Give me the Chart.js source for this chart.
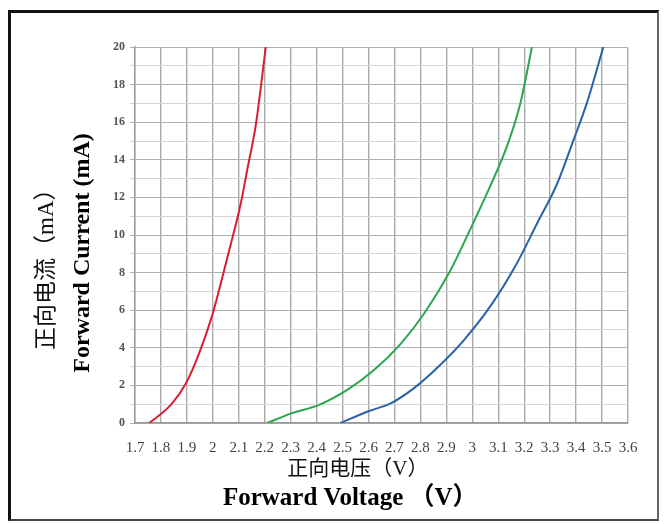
<!DOCTYPE html>
<html>
<head>
<meta charset="utf-8">
<script src="https://cdn.jsdelivr.net/npm/chart.js@4.4.1/dist/chart.umd.min.js"></script>
<style>
  html, body { margin: 0; padding: 0; background: #fff; }
  #wrap { position: relative; width: 664px; height: 524px; }
  #frame { position: absolute; left: 8px; top: 10px; width: 646px; height: 506px;
           border-left: 3px solid #111; border-top: 3px solid #111;
           border-right: 2px solid #666; border-bottom: 2px solid #444; pointer-events: none; }
  canvas { position: absolute; left: 0; top: 0; }
</style>
</head>
<body>
<div id="wrap">
  <canvas id="c" width="664" height="524"></canvas>
  <div id="frame"></div>
</div>
<script>
// Forward voltage (V) / forward current (mA)
const redVoltage   = [1.755, 1.838, 1.896, 1.947, 1.999, 2.056, 2.108, 2.133, 2.165, 2.204];
const redCurrent   = [0, 0.96, 2.1, 3.7, 5.8, 8.8, 11.7, 13.5, 15.8, 20];
const greenVoltage = [2.21, 2.30, 2.409, 2.518, 2.62, 2.723, 2.813, 2.915, 2.992, 3.069, 3.133, 3.185, 3.23];
const greenCurrent = [0, 0.5, 0.96, 1.76, 2.8, 4.2, 5.8, 8.1, 10.3, 12.6, 14.7, 17.0, 20];
const blueVoltage  = [2.492, 2.595, 2.685, 2.774, 2.877, 2.967, 3.069, 3.172, 3.249, 3.326, 3.39, 3.441, 3.505];
const blueCurrent  = [0, 0.6, 1.04, 1.84, 3.1, 4.4, 6.2, 8.5, 10.6, 12.7, 15.05, 17.0, 20];

const xMin = 1.7, xMax = 3.6, xStep = 0.1;
const yMin = 0, yMax = 20, yStep = 1;

const xTitleCN = '正向电压（V）';
const xTitleEN = 'Forward Voltage （V）';
const yTitleCN = '正向电流（mA）';
const yTitleEN = 'Forward Current (mA)';

function pts(xs, ys) { return xs.map((v, i) => ({ x: v, y: ys[i] })); }

const serif = "'Liberation Serif', 'Times New Roman', 'Noto Sans CJK SC', serif";
const lineStyle = { borderWidth: 2, pointRadius: 0, cubicInterpolationMode: 'monotone' };

new Chart(document.getElementById('c'), {
  type: 'line',
  data: {
    datasets: [
      Object.assign({ data: pts(redVoltage, redCurrent), borderColor: '#d81f2e' }, lineStyle),
      Object.assign({ data: pts(greenVoltage, greenCurrent), borderColor: '#2ca64d' }, lineStyle),
      Object.assign({ data: pts(blueVoltage, blueCurrent), borderColor: '#2a62a8' }, lineStyle)
    ]
  },
  options: {
    responsive: false,
    animation: false,
    events: [],
    layout: { padding: { left: 12, top: 47, right: 36, bottom: 10 } },
    plugins: { legend: { display: false }, tooltip: { enabled: false } },
    scales: {
      x: {
        type: 'linear', position: 'bottom', min: xMin, max: xMax, weight: 0,
        afterFit: s => { s.height = 59; },
        ticks: {
          stepSize: xStep, autoSkip: false, maxRotation: 0, minRotation: 0, padding: 16,
          color: '#444', font: { family: serif, size: 15 },
          callback: v => String(Math.round(v * 10) / 10)
        },
        grid: { color: '#aaaaaa', lineWidth: 1.4, drawTicks: false },
        border: { color: '#999', width: 1.4 },
        title: { display: true, text: xTitleCN + '\u3000\u3000   ', color: '#111',
                 font: { family: serif, size: 21, weight: 'normal' }, padding: { top: 0, bottom: 0 } }
      },
      x2: {
        type: 'linear', position: 'bottom', min: xMin, max: xMax, weight: 1,
        afterFit: s => { s.height = 32; },
        ticks: { display: false },
        grid: { display: false, drawTicks: false },
        border: { display: false },
        title: { display: true, text: xTitleEN + '\u3000\u3000\u3000', color: '#000',
                 font: { family: serif, size: 25, weight: 'bold' }, padding: { top: 0, bottom: 0 } }
      },
      y: {
        type: 'linear', position: 'left', min: yMin, max: yMax, weight: 0,
        afterFit: s => { s.width = 68; },
        ticks: {
          stepSize: yStep, autoSkip: false, padding: 5, color: '#555',
          font: { family: serif, size: 12, weight: 'bold' },
          callback: v => (v % 2 === 0 ? String(v) : '')
        },
        grid: {
          color: ctx => (ctx.tick && ctx.tick.value % 2 === 0 ? '#b0b0b0' : '#d4d4d4'),
          lineWidth: 1, tickLength: 5
        },
        border: { color: '#999', width: 1.4 },
        title: { display: true, text: yTitleEN + '\u3000  ', color: '#000',
                 font: { family: serif, size: 24, weight: 'bold' }, padding: { top: 1, bottom: 0 } }
      },
      y2: {
        type: 'linear', position: 'left', min: yMin, max: yMax, weight: 1,
        afterFit: s => { s.width = 55; },
        ticks: { display: false },
        grid: { display: false, drawTicks: false },
        border: { display: false },
        title: { display: true, text: yTitleCN + '\u3000\u3000\u3000', color: '#111',
                 font: { family: serif, size: 23, weight: 'normal' }, padding: { top: 21, bottom: 0 } }
      }
    }
  }
});
</script>
</body>
</html>
